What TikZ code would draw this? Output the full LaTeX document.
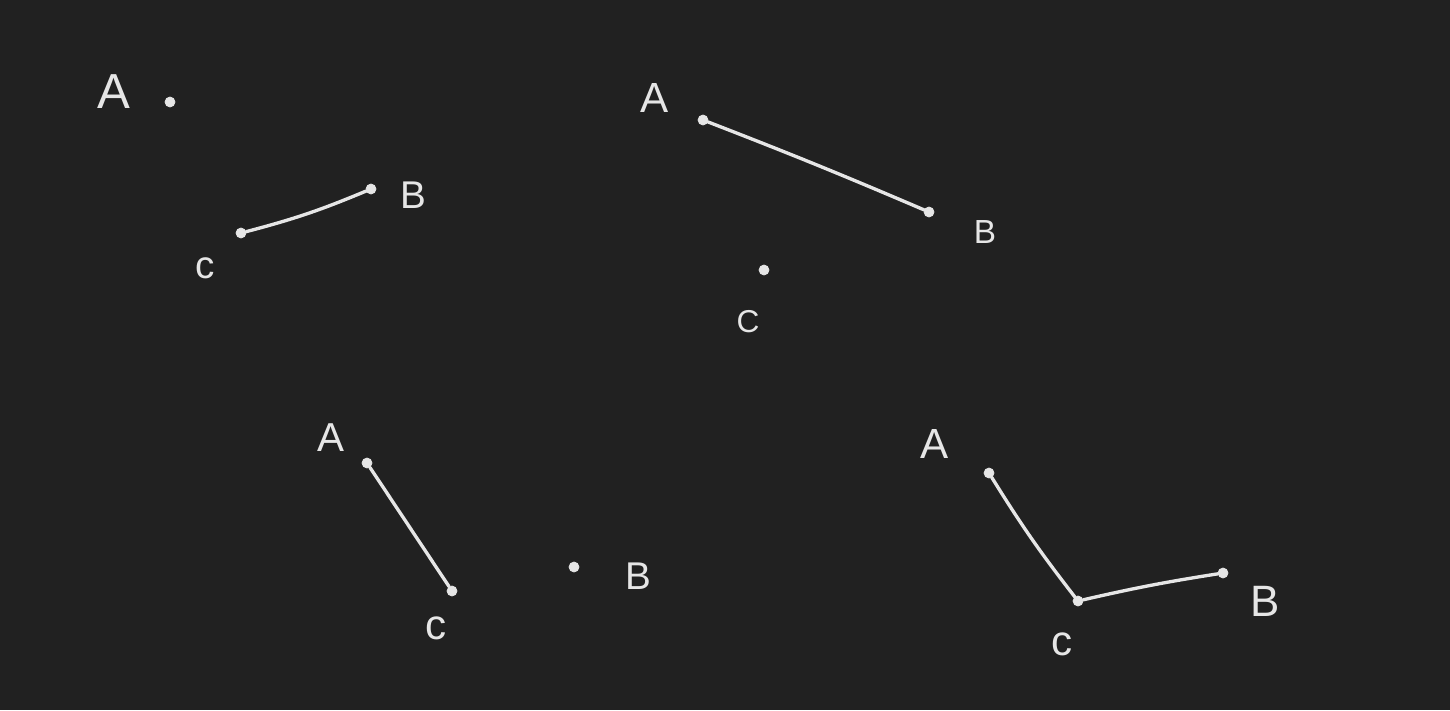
\documentclass[tikz,border=0pt]{standalone}
\usepackage{fontspec}
\setmainfont{Liberation Sans}
\definecolor{bg}{HTML}{212121}
\definecolor{ink}{HTML}{E6E6E6}
\newcommand\fsz[1]{\fontsize{#1}{#1}\selectfont}
\tikzset{
  pt/.style={circle,fill=ink,draw=ink,inner sep=0pt,minimum size=0.2cm},
  lbl/.style={text=ink,inner sep=0pt,anchor=center},
  edge/.style={draw=ink,line width=1.9pt,line cap=round,line join=round}
}
\begin{document}
\begin{tikzpicture}[x=0.02cm,y=-0.02cm]
\fill[bg] (0,0) rectangle (1450,710);
\useasboundingbox (0,0) rectangle (1450,710);
% graph 1
\node[pt] (a1) at (170,102) {};
\node[pt] (b1) at (371,189) {};
\node[pt] (c1) at (241,233) {};
\node[lbl,font=\fsz{28}] (la1) at (114,92) {A};
\node[lbl,font=\fsz{22}] (lb1) at (413,195) {B};
\node[lbl,font=\fsz{22}] (lc1) at (205,268) {c};
\draw[edge] (c1) to[bend right=4] (b1);
% graph 2
\node[pt] (a2) at (703,120) {};
\node[pt] (b2) at (929,212) {};
\node[pt] (c2) at (764,270) {};
\node[lbl,font=\fsz{24}] (la2) at (655,98) {A};
\node[lbl,font=\fsz{19}] (lb2) at (985,232) {B};
\node[lbl,font=\fsz{18}] (lc2) at (748,322) {C};
\draw[edge] (a2) to[bend left=1] (b2);
% graph 3
\node[pt] (a3) at (367,463) {};
\node[pt] (c3) at (452,591) {};
\node[pt] (b3) at (574,567) {};
\node[lbl,font=\fsz{23}] (la3) at (331,438) {A};
\node[lbl,font=\fsz{22}] (lb3) at (638,576) {B};
\node[lbl,font=\fsz{24}] (lc3) at (436,628) {c};
\draw[edge] (a3) -- (c3);
% graph 4
\node[pt] (a4) at (989,473) {};
\node[pt] (c4) at (1078,601) {};
\node[pt] (b4) at (1223,573) {};
\node[lbl,font=\fsz{24}] (la4) at (935,444) {A};
\node[lbl,font=\fsz{25}] (lb4) at (1265,601) {B};
\node[lbl,font=\fsz{24}] (lc4) at (1062,644) {c};
\draw[edge] (a4) to[bend right=3] (c4);
\draw[edge] (c4) to[bend left=2] (b4);
\end{tikzpicture}
\end{document}
